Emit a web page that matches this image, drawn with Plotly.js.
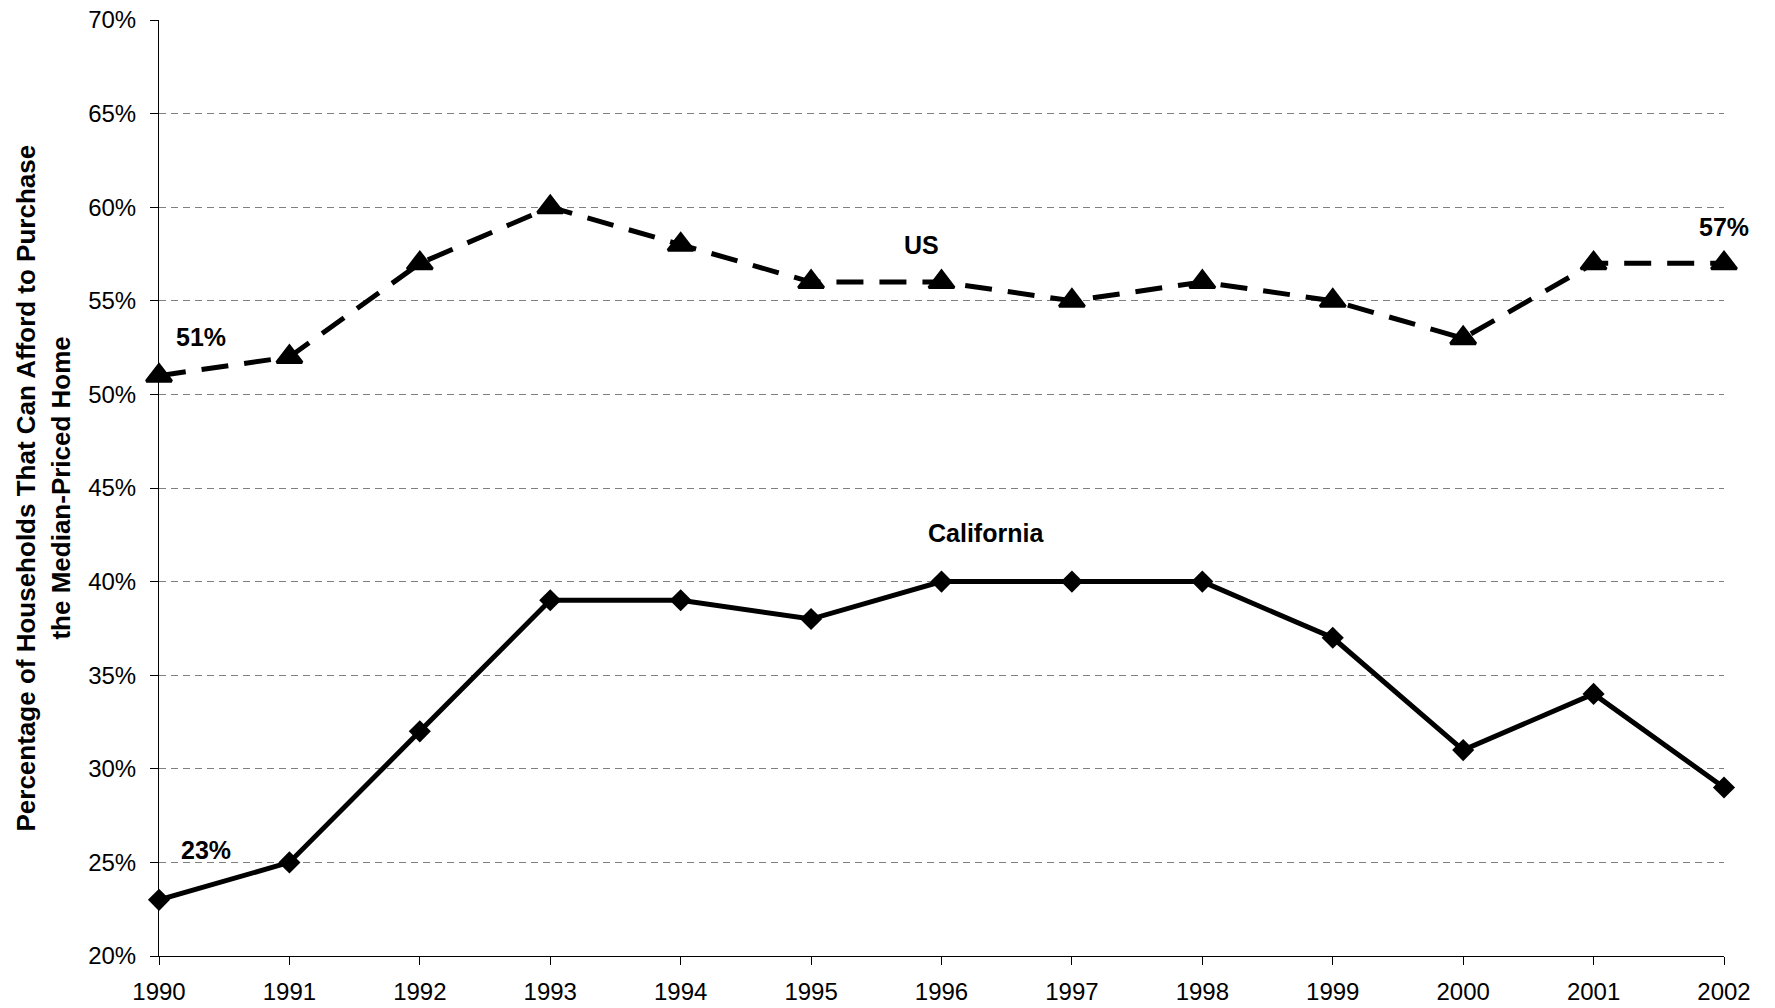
<!DOCTYPE html>
<html>
<head>
<meta charset="utf-8">
<script src="https://cdn.plot.ly/plotly-3.0.1.min.js"></script>
<style>
html,body{margin:0;padding:0;background:#fff;}
#chart{width:1775px;height:1008px;}
</style>
</head>
<body>
<div id="chart"></div>
<script>
// Data
const years = [1990, 1991, 1992, 1993, 1994, 1995, 1996, 1997, 1998, 1999, 2000, 2001, 2002];
const usValues = [51, 52, 57, 60, 58, 56, 56, 55, 56, 55, 53, 57, 57];
const caValues = [23, 25, 32, 39, 39, 38, 40, 40, 40, 37, 31, 34, 29];
const seriesNames = ["US", "California"];
const yTitleLines = ["Percentage of Households That Can Afford to Purchase", "the Median-Priced Home"];

const FONT = "'Liberation Sans', Arial, Helvetica, sans-serif";

const traces = [
  {
    x: years, y: usValues, name: seriesNames[0], type: 'scatter', mode: 'lines+markers',
    line: {color: '#000', width: 5, dash: '27px,16px'},
    marker: {symbol: 'triangle-up', size: 22, color: '#000', line: {color: '#000', width: 3}},
    cliponaxis: false
  },
  {
    x: years, y: caValues, name: seriesNames[1], type: 'scatter', mode: 'lines+markers',
    line: {color: '#000', width: 5},
    marker: {symbol: 'diamond', size: 17, color: '#000'},
    cliponaxis: false
  }
];

const lbl = (x, y, text) => ({
  x: x, y: y, xref: 'x', yref: 'y', text: '<b>' + text + '</b>', showarrow: false,
  font: {family: FONT, size: 25, color: '#000'}, xanchor: 'center', yanchor: 'middle'
});

const annotations = [
  lbl(1990.32, 53.06, usValues[0] + '%'),
  lbl(2002.0, 58.94, usValues[usValues.length - 1] + '%'),
  lbl(1990.36, 25.64, caValues[0] + '%'),
  lbl(2002.07, 32.05, caValues[caValues.length - 1] + '%'),
  lbl(1995.85, 57.97, seriesNames[0]),
  lbl(1996.34, 42.58, seriesNames[1]),
  {
    x: -0.0853, y: 0.5, xref: 'paper', yref: 'paper', text: '<b>' + yTitleLines[0] + '</b>',
    showarrow: false, textangle: -90, font: {family: FONT, size: 26, color: '#000'},
    xanchor: 'center', yanchor: 'middle'
  },
  {
    x: -0.0629, y: 0.5, xref: 'paper', yref: 'paper', text: '<b>' + yTitleLines[1] + '</b>',
    showarrow: false, textangle: -90, font: {family: FONT, size: 26, color: '#000'},
    xanchor: 'center', yanchor: 'middle'
  }
];

const layout = {
  width: 1775, height: 1008,
  margin: {l: 158.5, r: 51, t: 20, b: 52.3, pad: 0},
  paper_bgcolor: '#fff', plot_bgcolor: '#fff',
  showlegend: false,
  font: {family: FONT, size: 24, color: '#000'},
  xaxis: {
    range: [1990, 2002], tickvals: years, ticktext: years.map(String),
    showgrid: false, zeroline: false,
    showline: true, linecolor: '#000', linewidth: 1,
    ticks: 'outside', ticklen: 8, tickcolor: '#000', tickwidth: 1,
    ticklabelstandoff: 6,
    tickfont: {family: FONT, size: 24, color: '#000'}
  },
  yaxis: {
    range: [20, 70], dtick: 5, tick0: 20, ticksuffix: '%',
    showgrid: true, gridcolor: '#808080', gridwidth: 1, griddash: '7px,5px',
    zeroline: false,
    showline: true, linecolor: '#000', linewidth: 1,
    ticks: 'outside', ticklen: 8, tickcolor: '#000', tickwidth: 1,
    ticklabelstandoff: 9,
    tickfont: {family: FONT, size: 24, color: '#000'}
  },
  annotations: annotations
};

Plotly.newPlot('chart', traces, layout, {displayModeBar: false, staticPlot: true});
</script>
</body>
</html>
